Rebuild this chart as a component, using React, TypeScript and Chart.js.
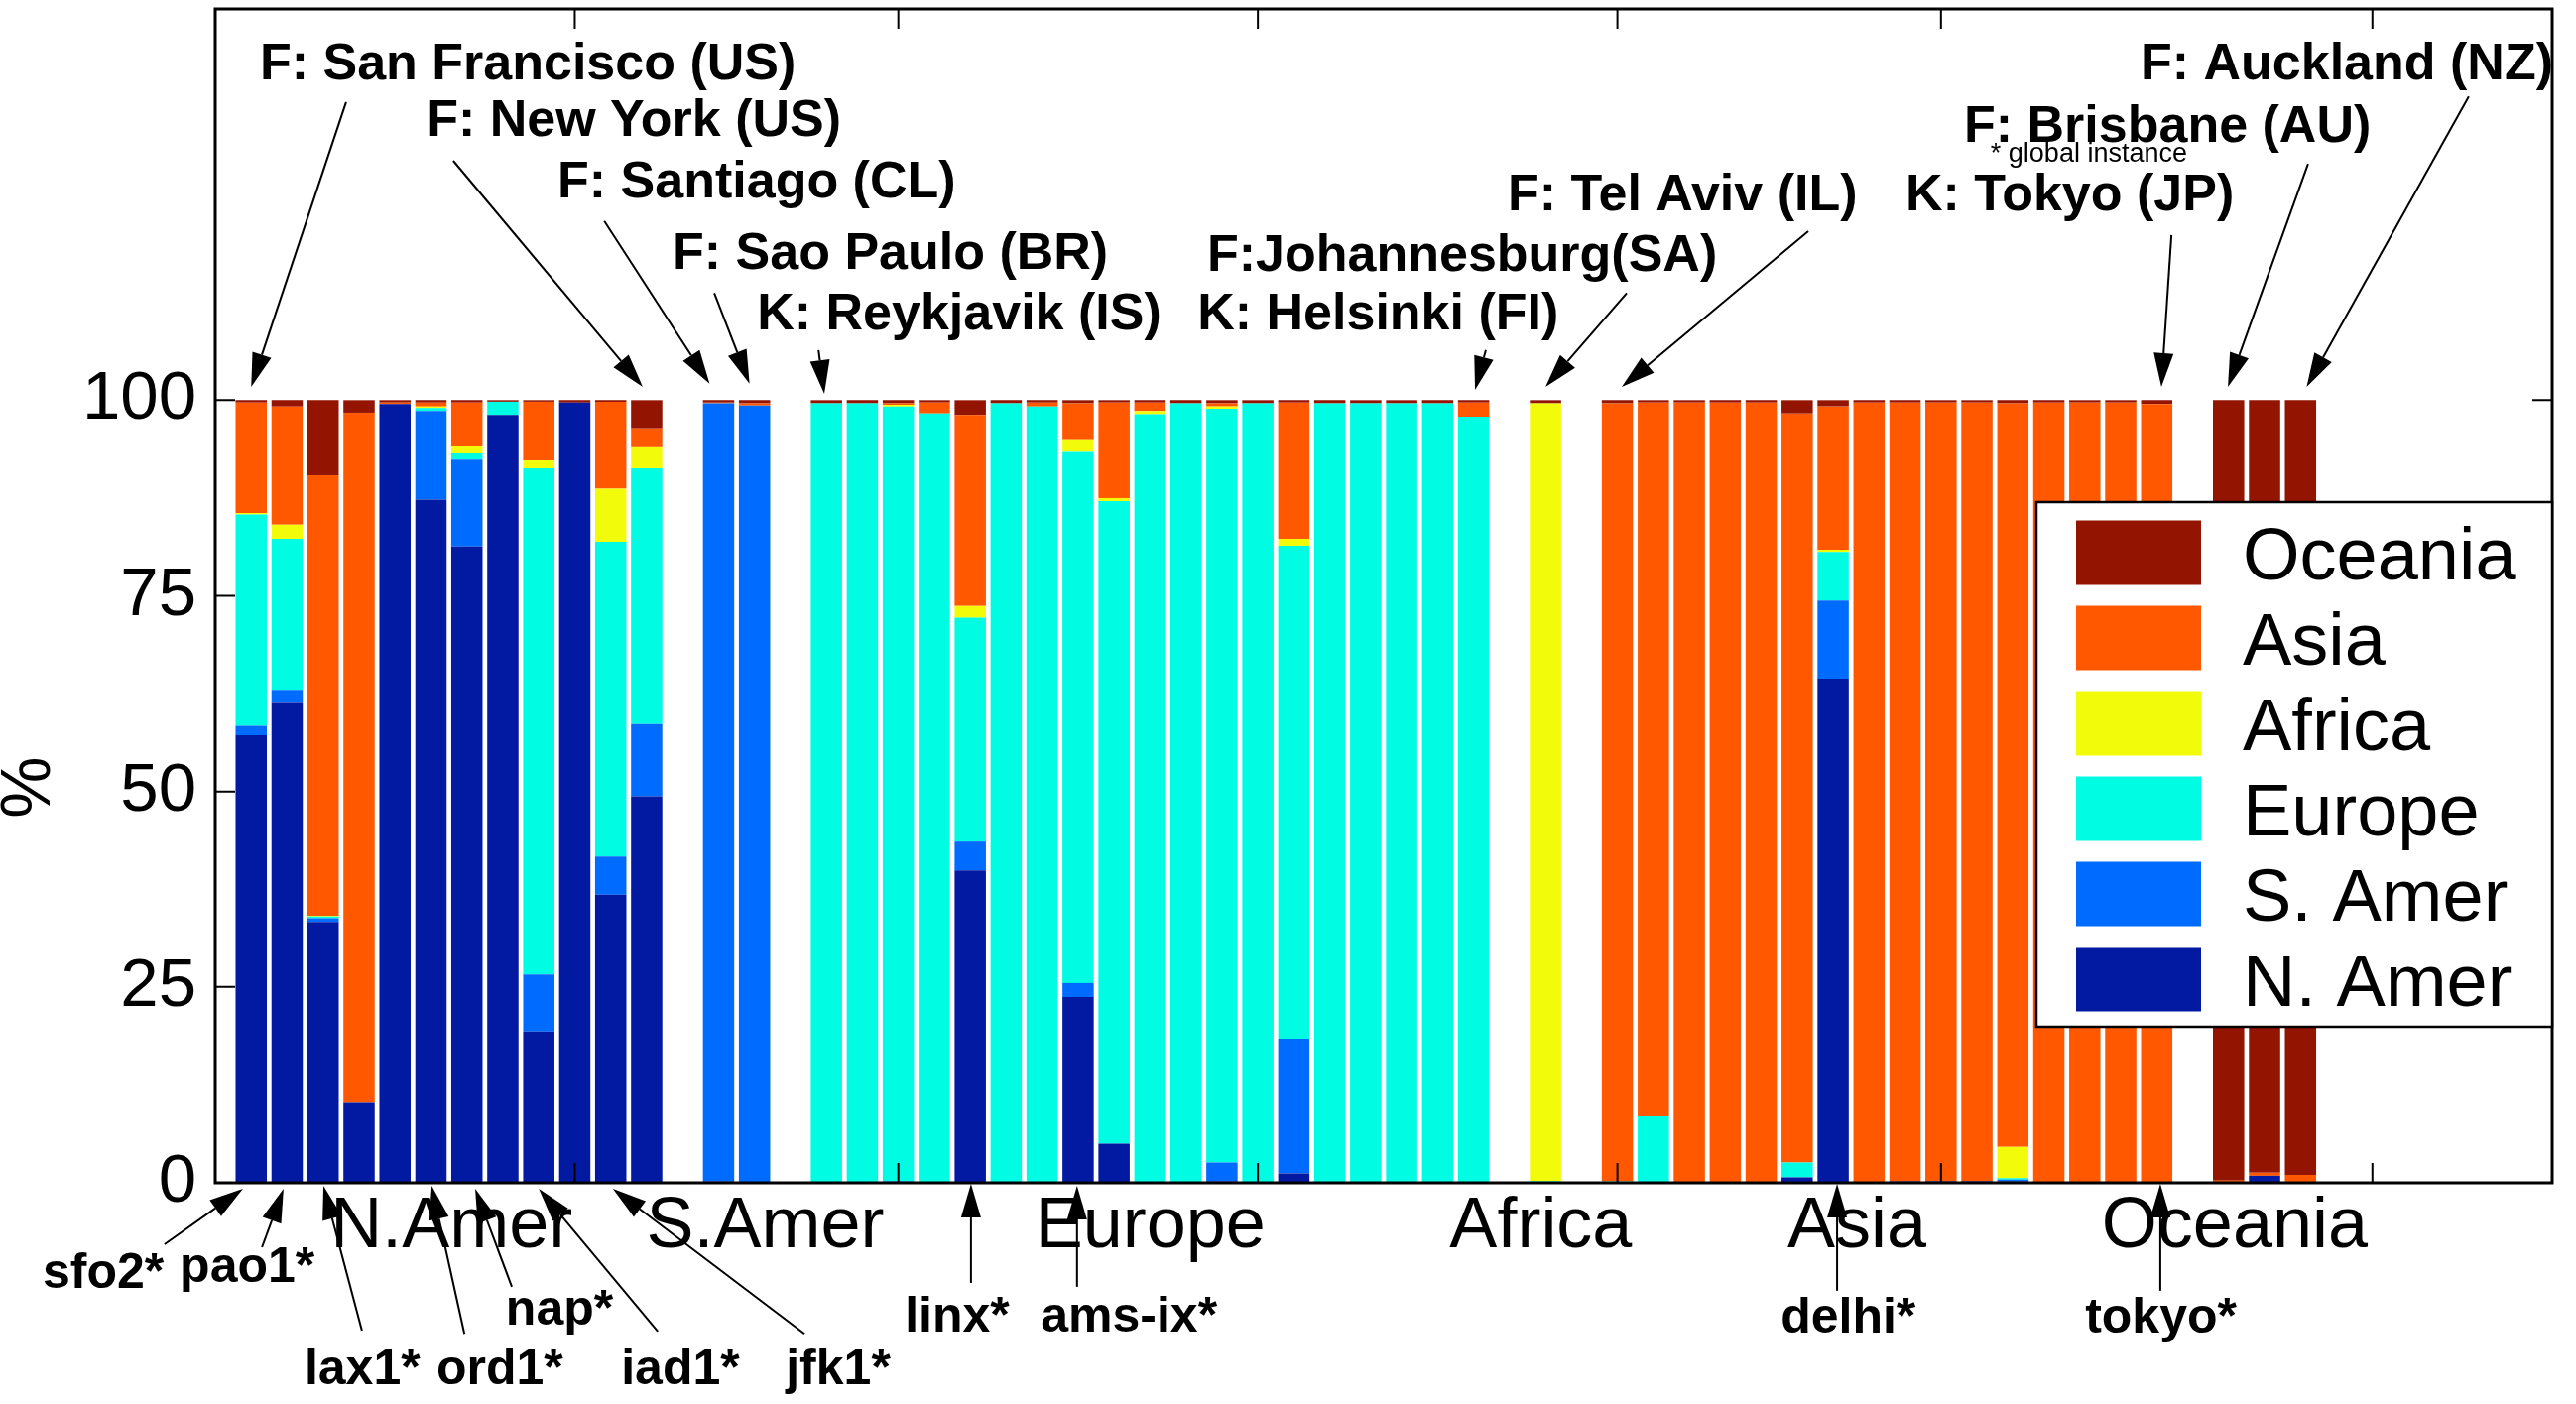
import React, { useEffect, useRef } from 'react';
import Chart from 'chart.js/auto';

// ---------- data ----------
const REGIONS = ['N. Amer', 'S. Amer', 'Europe', 'Africa', 'Asia', 'Oceania'];
const REGION_COLORS = ['#0219A2', '#006BFF', '#00FCE2', '#F2FC0A', '#FF5800', '#921401'];

// one entry per bar slot (0..57); null = empty slot between groups
const N_AMER = [57.2, 61.3, 33.3, 10.2, 99.5, 87.3, 81.3, 98.1, 19.3, 99.7, 36.8, 49.4, null,
  0.2, 0, null,
  0, 0, 0, 0, 39.9, 0, 0, 23.7, 5.0, 0, 0, 0.2, 0, 1.2, 0, 0, 0, 0, 0, null,
  0, null,
  0, 0, 0, 0, 0, 0.7, 64.4, 0, 0.2, 0.2, 0.2, 0.2, 0, 0, 0, 0, null,
  0, 0.9, 0];
const S_AMER = [1.2, 1.7, 0.5, 0, 0, 11.3, 11.1, 0, 7.3, 0, 4.9, 9.2, null,
  99.4, 99.3, null,
  0, 0, 0.2, 0.1, 3.7, 0, 0.1, 1.8, 0, 0.1, 0, 2.4, 0, 17.2, 0, 0, 0, 0, 0, null,
  0, null,
  0, 0, 0, 0, 0, 0, 10.0, 0, 0, 0, 0, 0.2, 0, 0, 0, 0, null,
  0, 0, 0];
const EUROPE = [27.0, 19.3, 0.2, 0, 0, 0.4, 0.8, 1.7, 64.7, 0, 40.2, 32.7, null,
  0, 0, null,
  99.6, 99.6, 99.0, 98.2, 28.6, 99.6, 99.1, 67.9, 82.1, 98.1, 99.6, 96.3, 99.6, 63.0, 99.6, 99.6, 99.6, 99.6, 97.9, null,
  0.2, null,
  0.2, 8.5, 0, 0, 0.1, 1.9, 6.2, 0, 0, 0, 0, 0.2, 0, 0, 0, 0, null,
  0, 0, 0];
const AFRICA = [0.2, 1.8, 0.1, 0, 0, 0.2, 1.0, 0, 1.0, 0, 6.8, 2.8, null,
  0, 0, null,
  0, 0, 0.2, 0, 1.5, 0, 0, 1.6, 0.4, 0.4, 0, 0.3, 0, 0.9, 0, 0, 0, 0, 0, null,
  99.4, null,
  0, 0, 0, 0, 0, 0, 0.3, 0, 0, 0, 0, 4.0, 0, 0, 0, 0, null,
  0, 0, 0];
const ASIA = [14.1, 15.1, 56.3, 88.2, 0.2, 0.5, 5.5, 0, 7.5, 0, 11.1, 2.3, null,
  0.1, 0.3, null,
  0, 0, 0.2, 1.4, 24.4, 0, 0.5, 4.6, 12.2, 1.1, 0, 0.4, 0, 17.4, 0, 0, 0, 0, 1.8, null,
  0, null,
  99.4, 91.2, 99.7, 99.7, 99.6, 95.7, 18.3, 99.7, 99.5, 99.5, 99.5, 95.0, 99.7, 99.7, 99.7, 99.5, null,
  0.3, 0.4, 1.0];
const OCEANIA = [0.3, 0.8, 9.6, 1.6, 0.3, 0.3, 0.3, 0.2, 0.2, 0.3, 0.2, 3.6, null,
  0.3, 0.4, null,
  0.4, 0.4, 0.4, 0.3, 1.9, 0.4, 0.3, 0.4, 0.3, 0.3, 0.4, 0.4, 0.4, 0.3, 0.4, 0.4, 0.4, 0.4, 0.3, null,
  0.4, null,
  0.4, 0.3, 0.3, 0.3, 0.3, 1.7, 0.8, 0.3, 0.3, 0.3, 0.3, 0.4, 0.3, 0.3, 0.3, 0.5, null,
  99.7, 98.7, 99.0];
const SERIES = [N_AMER, S_AMER, EUROPE, AFRICA, ASIA, OCEANIA];

const Y_TICKS = [0, 25, 50, 75, 100];
const X_TICKS = [9, 18, 28, 38, 47, 59];
const GROUP_LABELS = ['N.Amer', 'S.Amer', 'Europe', 'Africa', 'Asia', 'Oceania'];
const GROUP_LABEL_X = [5.57, 14.3, 25.01, 35.87, 44.66, 55.17];

// annotations: text left x (bar index units), baseline y (% units)
const TOP_LABELS = [
  { text: 'F: San Francisco (US)', x: 0.24, y: 141.0 },
  { text: 'F: New York (US)', x: 4.88, y: 133.8 },
  { text: 'F: Santiago (CL)', x: 8.52, y: 125.9 },
  { text: 'F: Sao Paulo (BR)', x: 11.72, y: 116.8 },
  { text: 'K: Reykjavik (IS)', x: 14.07, y: 109.0 },
  { text: 'K: Helsinki (FI)', x: 26.32, y: 109.0 },
  { text: 'F:Johannesburg(SA)', x: 26.59, y: 116.5 },
  { text: 'F: Tel Aviv (IL)', x: 34.95, y: 124.3 },
  { text: 'K: Tokyo (JP)', x: 46.01, y: 124.3 },
  { text: 'F: Brisbane (AU)', x: 47.64, y: 133.0 },
  { text: 'F: Auckland (NZ)', x: 52.55, y: 141.0 },
];
const NOTE = { text: '* global instance', x: 48.38, y: 130.5 };
const TOP_ARROWS = [
  [2.64, 138.1, 0.0, 101.7],
  [5.62, 130.6, 10.89, 101.7],
  [9.82, 122.9, 12.75, 102.1],
  [12.88, 113.7, 13.86, 102.1],
  [15.78, 106.4, 15.94, 100.8],
  [34.34, 106.4, 34.04, 101.3],
  [38.26, 113.7, 36.0, 101.7],
  [43.31, 121.6, 38.12, 101.7],
  [53.41, 121.1, 53.13, 101.7],
  [57.21, 130.2, 54.98, 101.7],
  [61.68, 138.8, 57.17, 101.7],
];
const BOTTOM_LABELS = [
  { text: 'sfo2*', x: -5.8, y: -13.4 },
  { text: 'pao1*', x: -1.99, y: -12.7 },
  { text: 'lax1*', x: 1.48, y: -25.7 },
  { text: 'ord1*', x: 5.15, y: -25.7 },
  { text: 'nap*', x: 7.08, y: -18.1 },
  { text: 'iad1*', x: 10.29, y: -25.7 },
  { text: 'jfk1*', x: 14.87, y: -25.7 },
  { text: 'linx*', x: 18.18, y: -19.0 },
  { text: 'ams-ix*', x: 21.96, y: -19.0 },
  { text: 'delhi*', x: 42.54, y: -19.1 },
  { text: 'tokyo*', x: 51.01, y: -19.1 },
];
const BOTTOM_ARROWS = [
  [-2.41, -7.86, -0.23, -0.76],
  [0.3, -8.24, 0.9, -0.76],
  [3.08, -18.9, 2.01, -0.38],
  [5.93, -19.3, 5.02, -0.38],
  [7.25, -13.3, 6.23, -0.76],
  [11.31, -19.0, 8.0, -0.76],
  [15.39, -19.3, 10.06, -0.76],
  [20.02, -12.8, 20.02, -0.13],
  [22.97, -13.3, 22.97, -0.38],
  [44.11, -13.8, 44.11, -0.13],
  [53.1, -13.8, 53.1, -0.13],
];

// ---------- drawing helpers ----------
const SANS = '"Liberation Sans", Arial, Helvetica, sans-serif';

function arrow(ctx: CanvasRenderingContext2D, x1: number, y1: number, x2: number, y2: number) {
  const len = 34;
  const half = 10;
  const ang = Math.atan2(y2 - y1, x2 - x1);
  const bx = x2 - len * Math.cos(ang);
  const by = y2 - len * Math.sin(ang);
  ctx.beginPath();
  ctx.moveTo(x1, y1);
  ctx.lineTo(bx, by);
  ctx.stroke();
  ctx.beginPath();
  ctx.moveTo(x2, y2);
  ctx.lineTo(bx + half * Math.sin(ang), by - half * Math.cos(ang));
  ctx.lineTo(bx - half * Math.sin(ang), by + half * Math.cos(ang));
  ctx.closePath();
  ctx.fill();
}

const overlay = {
  id: 'overlay',
  afterDatasetsDraw(chart: any) {
    const { ctx, chartArea: a, scales } = chart;
    const X = (v: number) => scales.x.getPixelForValue(v);
    const Y = (v: number) => scales.y.getPixelForValue(v);
    ctx.save();
    ctx.strokeStyle = '#000';
    ctx.fillStyle = '#000';

    // inward tick marks
    ctx.lineWidth = 2;
    ctx.beginPath();
    for (const t of Y_TICKS) {
      const py = Y(t);
      ctx.moveTo(a.left, py); ctx.lineTo(a.left + 20, py);
      ctx.moveTo(a.right, py); ctx.lineTo(a.right - 20, py);
    }
    for (const t of X_TICKS) {
      const px = X(t);
      ctx.moveTo(px, a.top); ctx.lineTo(px, a.top + 20);
      ctx.moveTo(px, a.bottom); ctx.lineTo(px, a.bottom - 20);
    }
    ctx.stroke();

    // axes box
    ctx.lineWidth = 3;
    ctx.strokeRect(a.left, a.top, a.right - a.left, a.bottom - a.top);

    // y label
    ctx.save();
    ctx.translate(31, Y(50.5));
    ctx.rotate(-Math.PI / 2);
    ctx.font = `70px ${SANS}`;
    ctx.textAlign = 'center';
    ctx.textBaseline = 'middle';
    ctx.fillText('%', 0, 0);
    ctx.restore();

    // group labels under the axis
    ctx.font = `72px ${SANS}`;
    ctx.textAlign = 'center';
    ctx.textBaseline = 'alphabetic';
    GROUP_LABELS.forEach((g, i) => ctx.fillText(g, X(GROUP_LABEL_X[i]), Y(-8.2)));

    // arrows
    ctx.lineWidth = 2;
    for (const [x1, y1, x2, y2] of [...TOP_ARROWS, ...BOTTOM_ARROWS]) {
      arrow(ctx, X(x1), Y(y1), X(x2), Y(y2));
    }

    // annotation text
    ctx.textAlign = 'left';
    ctx.font = `bold 52px ${SANS}`;
    for (const l of TOP_LABELS) ctx.fillText(l.text, X(l.x), Y(l.y));
    ctx.font = `bold 50px ${SANS}`;
    for (const l of BOTTOM_LABELS) ctx.fillText(l.text, X(l.x), Y(l.y));
    ctx.font = `27px ${SANS}`;
    ctx.fillText(NOTE.text, X(NOTE.x), Y(NOTE.y));

    // legend (top entry = last dataset)
    const lw = 520, lh = 529;
    const lx = a.right - lw, ly = a.top + 497;
    ctx.fillStyle = '#fff';
    ctx.fillRect(lx, ly, lw, lh);
    ctx.strokeStyle = '#000';
    ctx.lineWidth = 2.5;
    ctx.strokeRect(lx, ly, lw, lh);
    ctx.font = `74px ${SANS}`;
    const ds = chart.data.datasets;
    for (let r = 0; r < ds.length; r++) {
      const d = ds[ds.length - 1 - r];
      const sy = ly + 18.5 + r * 86;
      ctx.fillStyle = d.backgroundColor;
      ctx.fillRect(lx + 40, sy, 126, 65);
      ctx.fillStyle = '#000';
      ctx.fillText(d.label, lx + 208, sy + 32.5 + 26.5);
    }
    ctx.restore();
  },
};

export default function App() {
  const ref = useRef<HTMLCanvasElement>(null);
  useEffect(() => {
    if (!ref.current) return;
    Chart.defaults.color = '#000';
    const datasets = REGIONS.map((name, k) => ({
      label: name,
      data: SERIES[k]
        .map((v, i) => (v === null ? null : { x: i, y: v }))
        .filter((p) => p !== null),
      backgroundColor: REGION_COLORS[k],
      borderWidth: 0,
      barPercentage: 0.87,
      categoryPercentage: 1,
    }));
    const chart = new Chart(ref.current, {
      type: 'bar',
      data: { datasets } as any,
      options: {
        responsive: false,
        animation: false,
        devicePixelRatio: 1,
        layout: { padding: { top: 9, right: 24, bottom: 0, left: 0 } },
        plugins: { legend: { display: false }, tooltip: { enabled: false } },
        scales: {
          x: {
            type: 'linear',
            offset: false,
            min: -1,
            max: 64,
            stacked: true,
            grid: { display: false, drawTicks: false, offset: false },
            border: { display: false },
            ticks: { display: false, stepSize: 1 },
            afterFit: (s: any) => {
              s.height = 223;
              s.paddingLeft = 0;
              s.paddingRight = 0;
            },
          },
          y: {
            min: 0,
            max: 150,
            stacked: true,
            grid: { display: false, drawTicks: false },
            border: { display: false },
            ticks: {
              stepSize: 25,
              padding: 19,
              color: '#000',
              font: { size: 69, family: SANS },
              callback: (v: any) => (Number(v) <= 100 ? String(v) : ''),
            },
            afterFit: (s: any) => {
              s.width = 217;
              s.paddingTop = 0;
              s.paddingBottom = 0;
            },
          },
        },
      } as any,
      plugins: [overlay],
    });
    return () => chart.destroy();
  }, []);
  return (
    <div style={{ position: 'absolute', left: 0, top: 0, width: 2597, height: 1415, background: '#fff' }}>
      <canvas ref={ref} width={2597} height={1415} style={{ display: 'block' }} />
    </div>
  );
}
